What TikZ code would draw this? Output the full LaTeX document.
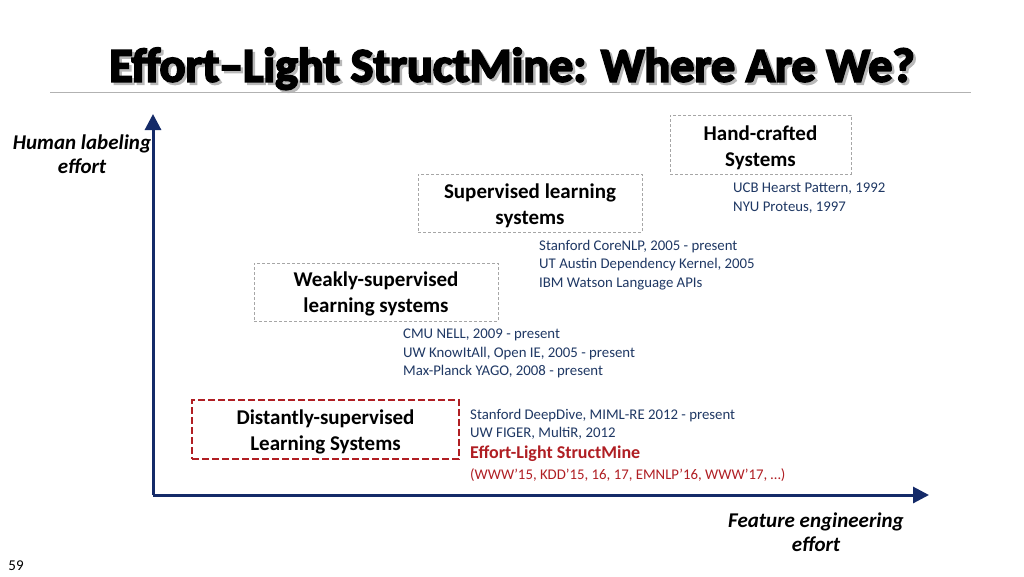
\documentclass[tikz,border=0pt]{standalone}
\usepackage{fontspec}
\setmainfont{Carlito}
\newfontfamily\titlefont[FakeBold=4]{Carlito Bold}
\usetikzlibrary{arrows.meta}
\definecolor{navy}{HTML}{142A68}
\definecolor{listblue}{HTML}{1F3864}
\definecolor{dred}{HTML}{B01E23}
\definecolor{boxgray}{HTML}{A6A6A6}
\tikzset{
  x=1pt, y=-1pt,
  sysbox/.style={draw=boxgray, line width=1pt, dash pattern=on 3pt off 2pt, inner sep=0pt},
  redbox/.style={draw=dred, line width=2.6pt, dash pattern=on 7pt off 3pt, inner sep=0pt},
  boxtxt/.style={align=center, font=\fontsize{21}{26}\selectfont\bfseries, inner sep=0pt, text=black},
  listtxt/.style={anchor=north west, align=left, font=\fontsize{14.8}{18.5}\selectfont, text=listblue, inner sep=0pt},
  axlabel/.style={align=center, font=\fontsize{21}{24}\selectfont\bfseries\itshape, text=black, inner sep=0pt},
  axis/.style={draw=navy, line width=3pt, -{Triangle[length=16pt,width=16pt]}},
}
\begin{document}
\begin{tikzpicture}
\useasboundingbox[fill=white] (0,0) rectangle (1024,576);
% title with shadow
\node[text=black, font=\titlefont\fontsize{48}{50}\selectfont] (title) at (512,70) {\rlap{\kern2.5pt\raisebox{-2.5pt}{\textcolor{gray!55}{Effort–Light StructMine: Where Are We?}}}Effort–Light StructMine: Where Are We?};
\coordinate (rl) at (50,92);
\coordinate (rr) at (971,92);
\draw[gray!60, line width=0.8pt] (rl) -- (rr);
% axes
\coordinate (o) at (153,495);
\coordinate (ytop) at (153,114);
\coordinate (xend) at (929,495);
\draw[axis] (o) -- (ytop);
\draw[axis] (o) -- (xend);
\node[axlabel] (ylab) at (82,154) {Human labeling\\effort};
\node[axlabel] (xlab) at (816,532) {Feature engineering\\effort};
% boxes
\node[sysbox, minimum width=181pt, minimum height=59pt] (hand) at (760.5,144.5) {};
\node[boxtxt] (handt) at ([yshift=-3pt]hand.center) {Hand-crafted\\Systems};
\node[sysbox, minimum width=224pt, minimum height=58pt] (sup) at (530,203) {};
\node[boxtxt] (supt) at ([yshift=-3pt]sup.center) {Supervised learning\\systems};
\node[sysbox, minimum width=244pt, minimum height=58pt] (weak) at (376,292) {};
\node[boxtxt] (weakt) at ([yshift=-2pt]weak.center) {Weakly-supervised\\learning systems};
\node[redbox, minimum width=267pt, minimum height=59pt] (dist) at (325.5,429.5) {};
\node[boxtxt] (distt) at ([yshift=-2pt]dist.center) {Distantly-supervised\\Learning Systems};
% lists
\node[listtxt] (l1) at (733,183) {UCB Hearst Pattern, 1992\\NYU Proteus, 1997};
\node[listtxt] (l2) at (539,240) {Stanford CoreNLP, 2005 - present\\UT Austin Dependency Kernel, 2005\\IBM Watson Language APIs};
\node[listtxt] (l3) at (403,329) {CMU NELL, 2009 - present\\UW KnowItAll, Open IE, 2005 - present\\Max-Planck YAGO, 2008 - present};
\node[listtxt] (l4) at (470,409) {Stanford DeepDive, MIML-RE 2012 - present\\UW FIGER, MultiR, 2012};
\node[anchor=north west, inner sep=0pt, text=dred, font=\fontsize{18}{20}\selectfont\bfseries] (l5) at (470,446) {Effort-Light StructMine};
\node[anchor=north west, inner sep=0pt, text=dred, font=\fontsize{14.8}{18}\selectfont] (l6) at (470,468) {(WWW’15, KDD’15, 16, 17, EMNLP’16, WWW’17, …)};
\node[anchor=center, inner sep=0pt, font=\fontsize{15}{16}\selectfont] (pg) at (16,566) {59};
\end{tikzpicture}
\end{document}
